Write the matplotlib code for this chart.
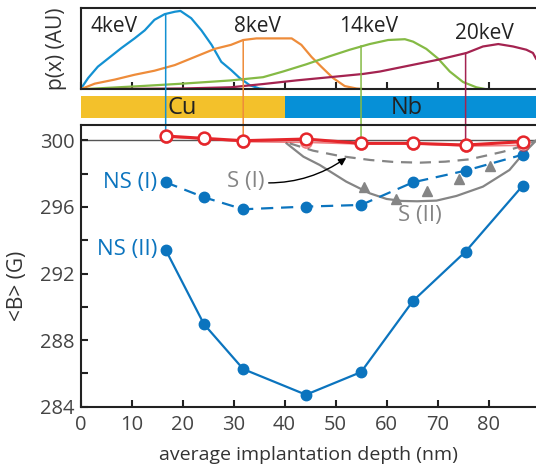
import numpy as np
import matplotlib
matplotlib.use('Agg')
import matplotlib.pyplot as plt
from matplotlib.patches import ConnectionPatch

plt.rcParams['font.family'] = ['Open Sans', 'DejaVu Sans']

# implantation profiles (top panel)
prof4_x = [0, 1.5, 3.4, 5.4, 8.0, 10.6, 12.6, 14.5, 16.5, 18.5, 19.6, 21.7, 23.7, 25.7, 27.6, 29.5, 31.2, 33.2, 35.1, 37.0]
prof4_y = [0, 0.14, 0.28, 0.38, 0.51, 0.63, 0.73, 0.86, 0.93, 0.96, 0.97, 0.88, 0.73, 0.55, 0.34, 0.24, 0.14, 0.05, 0.01, 0.0]
prof8_x = [0, 2.8, 6.7, 10.6, 14.5, 18.5, 22.4, 26.3, 29.5, 31.9, 34.5, 37.7, 41.4, 43.3, 45.3, 47.2, 49.5, 51.8, 54.1, 56.0]
prof8_y = [0, 0.07, 0.12, 0.18, 0.23, 0.30, 0.40, 0.50, 0.55, 0.61, 0.63, 0.63, 0.63, 0.55, 0.40, 0.28, 0.14, 0.04, 0.01, 0.0]
prof14_x = [0, 11.9, 20.0, 29.5, 35.8, 39.7, 44.3, 48.9, 52.8, 56.7, 60.3, 63.6, 65.2, 67.8, 70.1, 72.4, 75.0, 77.6, 79.6]
prof14_y = [0, 0.04, 0.07, 0.11, 0.15, 0.22, 0.31, 0.41, 0.49, 0.56, 0.61, 0.62, 0.59, 0.50, 0.38, 0.22, 0.09, 0.025, 0.0]
prof20_x = [0, 20.0, 29.5, 35.8, 42.3, 48.9, 55.4, 58.7, 62.6, 66.5, 70.4, 75.7, 78.9, 81.9, 84.8, 87.4, 88.7, 89.3]
prof20_y = [0, 0.01, 0.025, 0.065, 0.11, 0.15, 0.19, 0.22, 0.27, 0.32, 0.37, 0.45, 0.53, 0.56, 0.53, 0.49, 0.45, 0.38]
energies = ['4keV', '8keV', '14keV', '20keV']
energy_depth = [16.7, 31.9, 55.0, 75.5]
energy_top = [0.93, 0.61, 0.54, 0.45]
energy_B = [300.26, 299.98, 299.82, 299.72]
label_x = [6.6, 34.7, 56.4, 79.2]
label_y = [0.775, 0.775, 0.775, 0.69]

# layers
layer_names = ['Cu', 'Nb']
layer_start = [0, 40]
layer_end = [40, 89.3]

# main panel
depth = [16.7, 24.2, 31.9, 44.2, 55.0, 65.2, 75.5, 86.7]
B_ref = [300.26, 300.12, 299.98, 300.08, 299.82, 299.82, 299.72, 299.92]
B_ref2 = [300.2, 300.08, 299.92, 299.88, 299.78, 299.8, 299.66, 299.7]
B_ns1 = [297.48, 296.58, 295.86, 296.02, 296.12, 297.48, 298.18, 299.14]
B_ns2 = [293.42, 288.96, 286.26, 284.72, 286.08, 290.36, 293.32, 297.28]
tri_x = [55.6, 61.8, 67.9, 74.2, 80.2]
tri_y = [297.22, 296.5, 296.94, 297.66, 298.46]
s1_x = [41.0, 45.6, 51.0, 56.8, 61.5, 66.6, 71.5, 76.3, 82.9, 86.5, 89.3]
s1_y = [299.82, 299.38, 299.05, 298.82, 298.7, 298.66, 298.72, 298.86, 299.32, 299.65, 299.98]
s2_x = [40.4, 43.7, 46.9, 52.1, 56.7, 60.0, 63.0, 66.0, 69.8, 73.7, 78.9, 84.1, 86.8, 89.3]
s2_y = [299.82, 299.02, 298.52, 297.52, 296.82, 296.48, 296.36, 296.34, 296.38, 296.66, 297.22, 298.22, 299.2, 299.98]

c_blue = '#0B74BE'
c_red = '#E5262B'
c_gray = '#858585'
prof_colors = ['#1391D2', '#EE8C3A', '#85BA45', '#A42350']
layer_colors = ['#F3C12B', '#0690D7']
xmax = 89.3

W, H = 536, 465
fig = plt.figure(figsize=(W / 100, H / 100), dpi=100)

def px_axes(left, top, right, bottom):
    return fig.add_axes([left / W, 1 - bottom / H, (right - left) / W, (bottom - top) / H])

# top: profiles
axp = px_axes(80.5, 8.5, 536, 89.3)
for xs, ys, c in zip([prof4_x, prof8_x, prof14_x, prof20_x],
                     [prof4_y, prof8_y, prof14_y, prof20_y], prof_colors):
    axp.plot(xs, ys, color=c, lw=1.6)
axp.set_xlim(0, xmax)
axp.set_ylim(0, 1)
axp.set_xticks(np.arange(0, 90, 10))
axp.set_xticklabels([])
axp.set_yticks([])
axp.tick_params(direction='in', length=5, width=1.5, color='#222222')
for s in ['left', 'top', 'bottom']:
    axp.spines[s].set_linewidth(1.5)
    axp.spines[s].set_color('#222222')
axp.spines['right'].set_visible(False)
axp.set_ylabel('p(x) (AU)', fontsize=15, color='#333333')
axp.yaxis.set_label_coords(-0.03, 0.5)
for t, lx, ly in zip(energies, label_x, label_y):
    axp.text(lx, ly, t, fontsize=15, ha='center', va='center', color='#222222')

# layer bar
axb = px_axes(80.5, 96.5, 536, 118.3)
for name, a, b, c in zip(layer_names, layer_start, layer_end, layer_colors):
    axb.axvspan(a, b, color=c, lw=0)
    axb.text((a + b) / 2 + (0 if name == 'Cu' else -0.6), 0.45, name, fontsize=17,
             ha='center', va='center', color='#222222')
axb.set_xlim(0, xmax)
axb.set_ylim(0, 1)
axb.axis('off')

# main panel
ax = px_axes(80.5, 124.7, 536, 406.7)
ax.axhline(300, color='#555555', lw=1, zorder=0)
ax.plot(s2_x, s2_y, color=c_gray, lw=1.6, zorder=2)
ax.plot(s1_x, s1_y, color=c_gray, lw=1.6, dashes=(5, 3.5), zorder=2)
ax.plot(tri_x, tri_y, '^', color=c_gray, ms=7, zorder=3)
ax.plot(depth, B_ns1, '--o', color=c_blue, lw=1.6, ms=7.5, dashes=(5.5, 3.5), zorder=3)
ax.plot(depth, B_ns2, '-o', color=c_blue, lw=1.6, ms=7.5, zorder=3)
ax.plot(depth, B_ref2, '-o', color=c_red, alpha=0.6, lw=1.2, ms=8, mfc='white', mew=1.2, zorder=3)
ax.plot(depth, B_ref, '-o', color=c_red, lw=2.2, ms=8.5, mfc='white', mew=1.8, zorder=4)

ax.set_xlim(0, xmax)
ax.set_ylim(284, 300.94)
ax.set_xticks(np.arange(0, 90, 10))
ax.set_yticks(np.arange(284, 301, 2))
ax.set_yticklabels([str(v) if v % 4 == 0 else '' for v in range(284, 301, 2)])
ax.tick_params(direction='in', length=5, width=1.5, color='#222222', labelsize=14.5,
               labelcolor='#444444')
ax.tick_params(axis='x', pad=6)
ax.tick_params(axis='y', pad=4)
for s in ['left', 'top', 'bottom']:
    ax.spines[s].set_linewidth(1.5)
    ax.spines[s].set_color('#222222')
ax.spines['right'].set_visible(False)
ax.set_xlabel('average implantation depth (nm)', fontsize=14, color='#333333', labelpad=8)
ax.set_ylabel('<B> (G)', fontsize=15, color='#333333')
ax.yaxis.set_label_coords(-0.115, 0.43)

ax.text(15.0, 297.45, 'NS (I)', color=c_blue, fontsize=16, ha='right', va='center')
ax.text(15.0, 293.42, 'NS (II)', color=c_blue, fontsize=16, ha='right', va='center')
ax.text(66.5, 295.5, 'S (II)', color=c_gray, fontsize=16, ha='center', va='center')
ax.annotate('S (I)', xy=(52.1, 298.95), xytext=(32.4, 297.55), color=c_gray, fontsize=16,
            ha='center', va='center',
            arrowprops=dict(arrowstyle='-|>', color='black', lw=1, mutation_scale=11,
                            connectionstyle='arc3,rad=0.2', shrinkA=1, shrinkB=0))

# mean-depth markers linking profile to data point
for xd, yt, yb, c in zip(energy_depth, energy_top, energy_B, prof_colors):
    con = ConnectionPatch(xyA=(xd, yt), coordsA=axp.transData,
                          xyB=(xd, yb), coordsB=ax.transData,
                          color=c, lw=1.1, zorder=1)
    ax.add_artist(con)
    con.set_clip_on(False)

fig.savefig('out.png', dpi=100)
